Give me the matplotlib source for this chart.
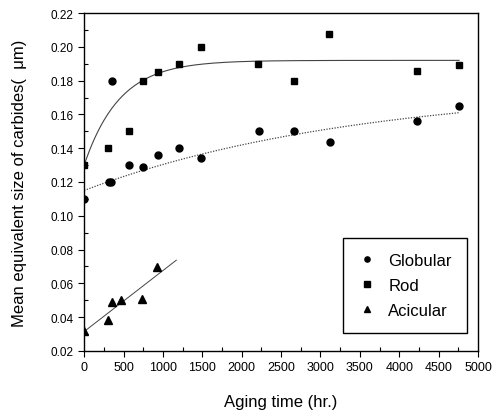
import numpy as np
import matplotlib
matplotlib.use("Agg")
import matplotlib.pyplot as plt
from matplotlib.ticker import MultipleLocator, FormatStrFormatter

plt.rcParams['font.family'] = ['Liberation Sans', 'DejaVu Sans']

# data (aging time in hr, size in um)
glob_t = [0, 310, 345, 358, 565, 750, 935, 1205, 1480, 2220, 2665, 3125, 4225, 4765]
glob_d = [0.110, 0.120, 0.120, 0.180, 0.130, 0.129, 0.136, 0.140, 0.134, 0.150, 0.150, 0.1435, 0.156, 0.165]

rod_t = [0, 300, 570, 745, 935, 1205, 1480, 2210, 2665, 3115, 4220, 4760]
rod_d = [0.130, 0.140, 0.150, 0.180, 0.185, 0.190, 0.200, 0.190, 0.180, 0.2075, 0.186, 0.189]

aci_t = [0, 300, 350, 470, 740, 930]
aci_d = [0.032, 0.038, 0.049, 0.050, 0.051, 0.0695]

# fitted curves: y = a - b*exp(-t/tau)
rod_fit = (0.192, 0.062, 450.0)
glob_fit = (0.1769, 0.0619, 3500.0)
fit_end = 4760
aci_end = 1170


def exp_rise(t, a, b, tau):
    return a - b * np.exp(-t / tau)


def main():
    fig = plt.figure(figsize=(5.01, 4.14), dpi=100)
    ax = fig.add_axes([0.168, 0.150, 0.786, 0.816])

    t = np.linspace(0, fit_end, 300)
    ax.plot(t, exp_rise(t, *rod_fit), color='#444444', lw=0.8)
    ax.plot(t, exp_rise(t, *glob_fit), color='#444444', lw=0.9, ls=(0, (1, 1.2)))

    k, c = np.polyfit(aci_t, aci_d, 1)
    ta = np.array([0, aci_end])
    ax.plot(ta, k * ta + c, color='#444444', lw=0.7)

    ax.plot(glob_t, glob_d, 'o', color='black', ms=5, label='Globular')
    ax.plot(rod_t, rod_d, 's', color='black', ms=5, label='Rod')
    ax.plot(aci_t, aci_d, '^', color='black', ms=5.5, label='Acicular')

    ax.set_xlim(0, 5000)
    ax.set_ylim(0.02, 0.22)
    ax.xaxis.set_major_locator(MultipleLocator(500))
    ax.xaxis.set_minor_locator(MultipleLocator(250))
    ax.yaxis.set_major_locator(MultipleLocator(0.02))
    ax.yaxis.set_minor_locator(MultipleLocator(0.01))
    ax.yaxis.set_major_formatter(FormatStrFormatter('%.2f'))
    ax.tick_params(which='major', direction='out', length=4, width=0.8)
    ax.tick_params(which='minor', direction='in', length=3, width=0.8)
    ax.tick_params(axis='x', labelsize=9)
    ax.tick_params(axis='y', labelsize=8.5)
    for s in ax.spines.values():
        s.set_linewidth(1.0)

    ax.set_xlabel('Aging time (hr.)', fontsize=12, labelpad=15)
    ax.set_ylabel('Mean equivalent size of carbides(  \u03bcm)', fontsize=12, labelpad=17)

    leg = ax.legend(loc='lower right', bbox_to_anchor=(0.972, 0.053), borderaxespad=0,
                    fontsize=12, markerscale=0.75, handlelength=1.0, handletextpad=0.8,
                    labelspacing=0.6, borderpad=0.9, fancybox=False,
                    edgecolor='black', framealpha=1)
    leg.get_frame().set_linewidth(1.0)

    fig.savefig('out.png', dpi=100)


if __name__ == "__main__":
    main()
